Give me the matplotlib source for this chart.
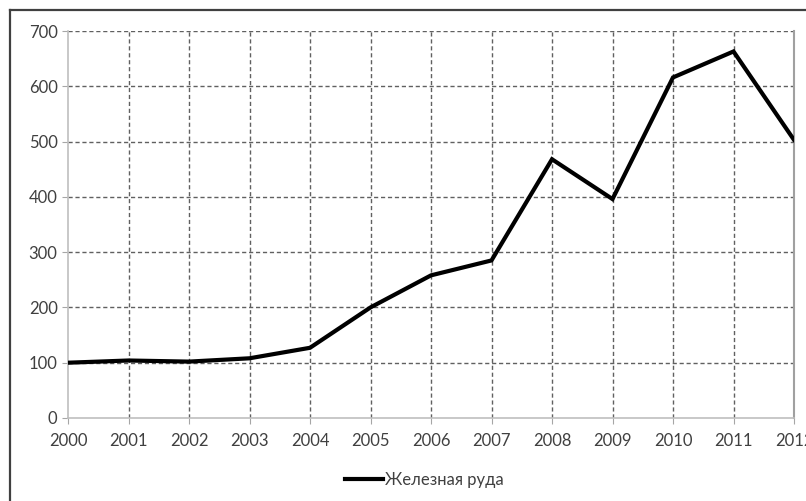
import matplotlib.pyplot as plt
from matplotlib.lines import Line2D

# Data
years = [2000, 2001, 2002, 2003, 2004, 2005, 2006, 2007, 2008, 2009, 2010, 2011, 2012]
ore = [100, 104, 102, 108, 127, 200, 258, 285, 468, 396, 616, 663, 503]
y_ticks = [0, 100, 200, 300, 400, 500, 600, 700]
series_name = "Железная руда"

plt.rcParams["font.family"] = ["Lato", "DejaVu Sans"]
text_color = "#404040"

fig = plt.figure(figsize=(8.06, 5.01), dpi=100)
W, H = 806, 501
ax = fig.add_axes([68 / W, 1 - 418 / H, (794 - 68) / W, (418 - 31) / H])

ax.plot(years, ore, color="black", linewidth=3, solid_joinstyle="miter", zorder=5)

ax.set_xlim(2000, 2012)
ax.set_ylim(0, 700)
ax.set_xticks(years)
ax.set_yticks(y_ticks)
ax.tick_params(colors="#a6a6a6", labelcolor=text_color, labelsize=12, length=4.5,
               direction="out")
ax.tick_params(axis="y", pad=3)
ax.tick_params(axis="x", pad=6)

# dashed grid
for yv in y_ticks[1:]:
    ax.axhline(yv, color="#606060", linestyle=(0, (3, 2)), linewidth=1, zorder=1)
for xv in years[1:-1]:
    ax.axvline(xv, color="#606060", linestyle=(0, (3, 2)), linewidth=1, zorder=1)

ax.spines["top"].set_visible(False)
ax.spines["left"].set_color("#bfbfbf")
ax.spines["bottom"].set_color("#bfbfbf")
ax.spines["right"].set_color("#a0a0a0")
ax.spines["left"].set_linewidth(1.2)
ax.spines["bottom"].set_linewidth(1.2)
ax.spines["right"].set_linewidth(1.5)

handle = Line2D([0], [0], color="black", linewidth=3)
fig.legend([handle], [series_name], loc="center", bbox_to_anchor=(424 / W, 1 - 480 / H),
           frameon=False, fontsize=12, labelcolor=text_color, handlelength=2.3,
           handletextpad=0.1)

# outer chart border (cut off at right and bottom)
fig.add_artist(Line2D([10 / W, 1], [1 - 10 / H, 1 - 10 / H], color="#404040",
                      linewidth=1.6, transform=fig.transFigure))
fig.add_artist(Line2D([10 / W, 10 / W], [0, 1 - 10 / H], color="#404040",
                      linewidth=1.6, transform=fig.transFigure))

fig.savefig("out.png", dpi=100)
